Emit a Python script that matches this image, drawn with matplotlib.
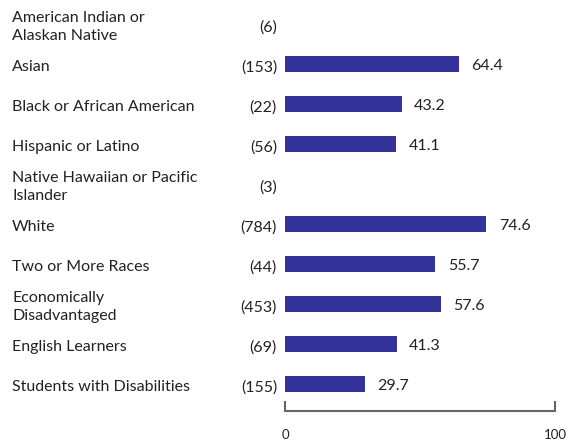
import numpy as np
import matplotlib.pyplot as plt
import matplotlib.transforms as mtransforms

plt.rcParams['font.family'] = ['Lato', 'DejaVu Sans']

groups = ['American Indian or\nAlaskan Native', 'Asian', 'Black or African American',
          'Hispanic or Latino', 'Native Hawaiian or Pacific\nIslander', 'White',
          'Two or More Races', 'Economically\nDisadvantaged', 'English Learners',
          'Students with Disabilities']
counts = [6, 153, 22, 56, 3, 784, 44, 453, 69, 155]
pct = [np.nan, 64.4, 43.2, 41.1, np.nan, 74.6, 55.7, 57.6, 41.3, 29.7]

W, H = 567, 442
fig = plt.figure(figsize=(W / 100, H / 100), dpi=100)
# axes spans x 285..555 px, y 0..411 px (from top)
ax = fig.add_axes([285 / W, (H - 411) / H, 270 / W, 411 / H])

bar_color = '#333399'
txt_color = '#222222'
fs = 11.5
for i, v in enumerate(pct):
    if np.isnan(v):
        continue
    ax.barh(i, v, height=0.42, color=bar_color, linewidth=0)
    ax.annotate(f'{v:.1f}', (v, i + 0.04), xytext=(9, 0), textcoords='offset points',
                va='center', ha='left', fontsize=fs, color=txt_color)

lab_tr = mtransforms.blended_transform_factory(fig.transFigure, ax.transData)
for i, (g, n) in enumerate(zip(groups, counts)):
    ax.text(12 / W, i + 0.07, g, transform=lab_tr, ha='left', va='center',
            fontsize=fs, color=txt_color, linespacing=1.4)
    ax.text(277 / W, i + 0.1, f'({n})', transform=lab_tr, ha='right', va='center',
            fontsize=fs, color=txt_color)

ax.set_xlim(0, 100)
ax.set_ylim(9.675, -0.6)
for s in ['top', 'right', 'left']:
    ax.spines[s].set_visible(False)
ax.spines['bottom'].set_color('#666666')
ax.spines['bottom'].set_linewidth(1.5)
ax.set_yticks([])
ax.set_xticks([0, 100])
ax.tick_params(axis='x', direction='in', length=7, width=1.5, color='#666666',
               labelsize=9.5, labelcolor=txt_color, pad=13)

fig.savefig('out.png', dpi=100)
